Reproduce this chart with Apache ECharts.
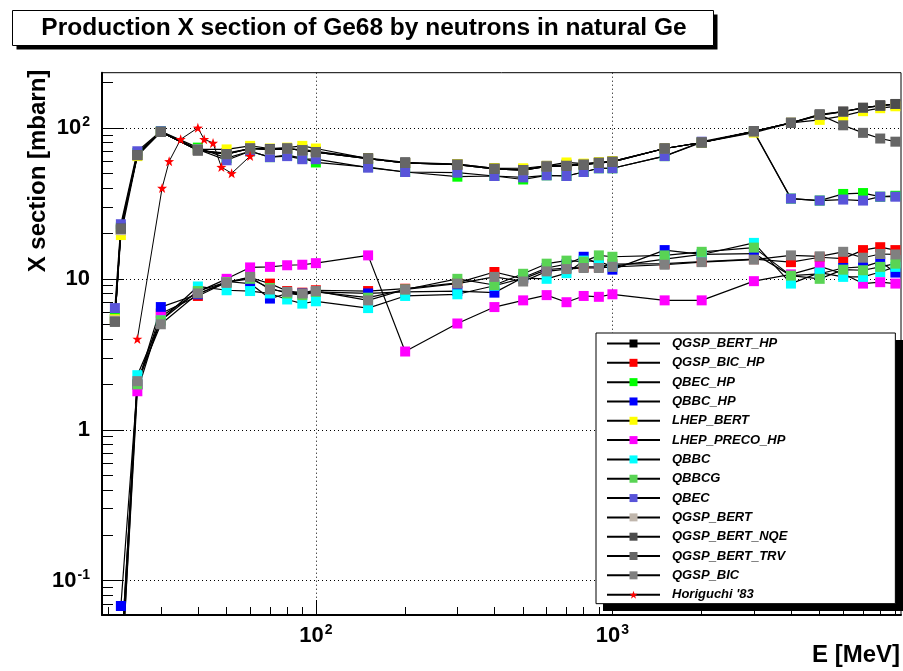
<!DOCTYPE html>
<html>
<head>
<meta charset="utf-8">
<script src="https://cdn.jsdelivr.net/npm/echarts@6/dist/echarts.min.js"></script>
<style>html,body{margin:0;padding:0;background:#fff}#c{width:903px;height:671px}</style>
</head>
<body>
<div id="c"></div>
<script>
// ---------------- data ----------------
const energies = [21, 22, 25, 30, 40, 50, 60, 70, 80, 90, 100, 150, 200, 300, 400, 500, 600, 700, 800, 900, 1000, 1500, 2000, 3000, 4000, 5000, 6000, 7000, 8000, 9000];

const seriesNames = ['QGSP_BERT_HP', 'QGSP_BIC_HP', 'QBEC_HP', 'QBBC_HP', 'LHEP_BERT', 'LHEP_PRECO_HP', 'QBBC', 'QBBCG', 'QBEC', 'QGSP_BERT', 'QGSP_BERT_NQE', 'QGSP_BERT_TRV', 'QGSP_BIC'];
const seriesColors = ['#000000', '#ff0000', '#00ff00', '#0000ff', '#ffff00', '#ff00ff', '#00ffff', '#59d454', '#5954d9', '#c0b6ac', '#4d4d4d', '#666666', '#808080'];

const QGSP_BERT_HP  = [5.4, 21, 66, 94, 71, 68, 73, 72, 72, 72, 70, 63, 59, 57.5, 54, 53, 56, 57, 57.5, 59, 60, 73, 80, 95, 108, 121, 128, 135, 141, 143];
const QGSP_BIC_HP   = [null, 0.02, 2.0, 5.9, 7.7, 9.5, 10.2, 9.3, 8.3, 8.1, 8.4, 8.3, 8.6, 9.4, 11.1, 10.0, 11.5, 11.8, 12.0, 12.0, 12.5, 12.6, 13.0, 13.5, 12.9, 13.9, 13.6, 15.5, 16.2, 15.5];
const QBEC_HP       = [5.7, 22, 68, 95, 74, 63, 70, 64, 66, 63, 59, 55, 51, 47.5, 48, 45.5, 48.5, 48, 51, 54, 54, 65, 80, 94, 34, 33, 36.5, 37, 35, 35.5];
const QBBC_HP       = [null, 0.068, 2.0, 6.5, 7.9, 9.6, 9.3, 7.4, 8.0, 8.0, 8.2, 8.0, 8.2, 8.3, 8.1, 10.2, 11.8, 12.5, 14.0, 12.5, 11.5, 15.5, 14.5, 14.7, 10.5, 10.8, 11.8, 12.0, 13.0, 11.0];
const LHEP_BERT     = [5.4, 19.5, 65, 94, 72, 72, 76, 73, 74, 76, 73, 62.5, 58.5, 57.5, 54, 54, 56, 59, 58, 59, 60, 73, 80, 93, 108, 113, 120, 129, 135, 139];
const LHEP_PRECO_HP = [null, 0.02, 1.8, 5.6, 8.2, 10.0, 11.9, 12.0, 12.3, 12.4, 12.7, 14.3, 3.3, 5.06, 6.5, 7.2, 7.8, 7.0, 7.7, 7.6, 7.9, 7.2, 7.2, 9.65, 10.7, 12.1, 10.8, 9.3, 9.5, 9.3];
const QBBC          = [null, 0.025, 2.3, 5.3, 8.9, 8.4, 8.3, 8.0, 7.3, 6.85, 7.1, 6.4, 7.7, 7.9, 9.0, 10.1, 10.0, 10.9, 13.2, 13.0, 12.1, 13.5, 14.5, 17.3, 9.3, 11.0, 10.3, 10.3, 11.1, 12.0];
const QBBCG         = [null, 0.03, 2.0, 5.3, 8.3, 9.5, 10.0, 8.7, 8.0, 7.8, 8.2, 7.5, 8.5, 10.0, 9.1, 10.8, 12.6, 13.2, 13.0, 14.3, 14.0, 14.3, 15.1, 16.1, 10.5, 10.0, 11.5, 11.4, 12.0, 12.6];
const QBEC          = [6.4, 23, 70, 95, 72, 61, 70, 64, 65, 62, 62, 54.5, 51, 50.5, 48, 47, 48.5, 48, 51, 54, 54, 65, 81, 95, 34, 33, 33.5, 33, 35, 35];
const QGSP_BERT     = [5.3, 21, 66, 94, 71, 67, 73, 72, 73, 71, 69, 62.5, 58.5, 57, 53.5, 52.5, 55.5, 56, 57, 58.5, 59.5, 73, 80, 95, 108, 122, 128, 136, 140, 144];
const QGSP_BERT_NQE = [5.2, 21.5, 66, 94, 71, 67, 73, 72.5, 73, 71, 69, 62.5, 58.5, 57, 53.5, 52.5, 55.5, 56, 57, 58.5, 59.5, 73, 80, 95, 108, 123, 128, 136, 140, 144];
const QGSP_BERT_TRV = [5.2, 21.5, 66, 94, 71, 67, 73, 72, 73, 71, 69, 62.5, 58.5, 57, 53.5, 52.5, 55.5, 56, 57, 58.5, 59.5, 73, 80, 95, 108, 122, 104, 92.7, 85, 81];
const QGSP_BIC      = [null, 0.03, 2.1, 5.0, 8.0, 9.4, 10.3, 8.5, 8.2, 8.0, 8.3, 7.2, 8.5, 9.3, 10.3, 9.6, 11.2, 11.6, 11.8, 11.8, 12.0, 12.4, 12.9, 13.4, 14.3, 14.1, 15.1, 13.8, 14.6, 14.5];

const horiguchiE = [25, 30.3, 32, 35, 40, 42, 45, 48, 52, 60];
const horiguchiV = [4.0, 40, 60, 84, 100, 84, 79.5, 55, 50, 65];

const xMajorTicks = [100, 1000];
const xMinorTicks = [20, 30, 40, 50, 60, 70, 80, 90, 200, 300, 400, 500, 600, 700, 800, 900, 2000, 3000, 4000, 5000, 6000, 7000, 8000, 9000];
const xTickLabels = {100: '{b|10}{s|2}', 1000: '{b|10}{s|3}'};
const yMajorTicks = [0.1, 1, 10, 100];
const yMinorTicks = [0.06, 0.07, 0.08, 0.09, 0.2, 0.3, 0.4, 0.5, 0.6, 0.7, 0.8, 0.9, 2, 3, 4, 5, 6, 7, 8, 9, 20, 30, 40, 50, 60, 70, 80, 90, 200];
const yTickLabels = {0.1: '{b|10}{s|-1}', 1: '{b|1}', 10: '{b|10}', 100: '{b|10}{s|2}'};

const seriesValues = [QGSP_BERT_HP, QGSP_BIC_HP, QBEC_HP, QBBC_HP, LHEP_BERT, LHEP_PRECO_HP, QBBC, QBBCG, QBEC, QGSP_BERT, QGSP_BERT_NQE, QGSP_BERT_TRV, QGSP_BIC];

const titleText = 'Production X section of Ge68 by neutrons in natural Ge';
const yTitle = 'X section [mbarn]';
const xTitle = 'E [MeV]';

// ---------------- chart ----------------
const FONT = 'Liberation Sans';
const X_MIN = 19.0, X_MAX = 9400, Y_MIN = 0.0593, Y_MAX = 232;
const star = 'path://M0,-10 L2.35,-3.24 L9.51,-3.09 L3.8,1.24 L5.88,8.09 L0,4 L-5.88,8.09 L-3.8,1.24 L-9.51,-3.09 L-2.35,-3.24 Z';

const richLab = {
  b: {fontFamily: FONT, fontSize: 22, fontWeight: 'bold', color: '#000', lineHeight: 26},
  s: {fontFamily: FONT, fontSize: 14, fontWeight: 'bold', color: '#000', verticalAlign: 'top', lineHeight: 14, padding: [0, 0, 0, 1]}
};

const series = seriesNames.map((name, i) => ({
  name: name,
  type: 'line',
  data: energies.map((e, k) => [e, seriesValues[i][k]]).filter(p => p[1] != null),
  symbol: 'rect',
  symbolSize: 10,
  showSymbol: true,
  showAllSymbol: true,
  itemStyle: {color: seriesColors[i]},
  lineStyle: {color: '#000', width: 1.2},
  emphasis: {disabled: true},
  animation: false,
  clip: true
}));
series.push({
  name: "Horiguchi '83",
  type: 'line',
  data: horiguchiE.map((e, k) => [e, horiguchiV[k]]),
  symbol: star,
  symbolSize: 10,
  showAllSymbol: true,
  itemStyle: {color: '#ff0000'},
  lineStyle: {color: '#000', width: 1},
  emphasis: {disabled: true},
  animation: false
});

const chart = echarts.init(document.getElementById('c'), null, {renderer: 'canvas'});
chart.setOption({
  backgroundColor: '#fff',
  animation: false,
  legend: {
    orient: 'vertical',
    left: 596, top: 333, z: 10,
    padding: [4, 108, 2.5, 10],
    itemWidth: 53, itemHeight: 10, itemGap: 6.32,
    backgroundColor: '#fff',
    borderColor: '#000', borderWidth: 1, borderRadius: 0,
    selectedMode: false,
    textStyle: {fontFamily: FONT, fontSize: 13, fontStyle: 'italic', fontWeight: 'bold', color: '#000', padding: [0, 0, 0, 7]},
    data: seriesNames.concat(["Horiguchi '83"])
  },
  grid: {left: 102, top: 72.7, right: 2, bottom: 56, show: true, borderColor: '#000', borderWidth: 1, backgroundColor: 'transparent'},
  xAxis: [{
    type: 'log', logBase: 10, min: X_MIN, max: X_MAX, position: 'bottom',
    axisLine: {show: true, onZero: false, lineStyle: {color: '#000', width: 2}},
    axisTick: {show: true, inside: true, length: 15, lineStyle: {color: '#000', width: 1}, customValues: xMajorTicks},
    axisLabel: {show: true, margin: 8, customValues: xMajorTicks, formatter: v => xTickLabels[Math.round(v)] || '', rich: richLab},
    splitLine: {show: true, lineStyle: {color: '#000', width: 1, type: [1, 3]}},
    minorTick: {show: false}
  }, {
    type: 'log', logBase: 10, min: X_MIN, max: X_MAX, position: 'bottom', gridIndex: 0,
    axisLine: {show: false},
    axisTick: {show: true, inside: true, length: 8, lineStyle: {color: '#000', width: 1}, customValues: xMinorTicks},
    axisLabel: {show: false},
    splitLine: {show: false}
  }],
  yAxis: [{
    type: 'log', logBase: 10, min: Y_MIN, max: Y_MAX, position: 'left',
    axisLine: {show: true, onZero: false, lineStyle: {color: '#000', width: 2}},
    axisTick: {show: true, inside: true, length: 22, lineStyle: {color: '#000', width: 1}, customValues: yMajorTicks},
    axisLabel: {show: true, margin: 12, customValues: yMajorTicks, formatter: v => {
      const key = Object.keys(yTickLabels).find(k => Math.abs(Math.log10(+k) - Math.log10(v)) < 1e-6);
      return key ? yTickLabels[key] : '';
    }, rich: richLab},
    splitLine: {show: true, lineStyle: {color: '#000', width: 1, type: [1, 3]}}
  }, {
    type: 'log', logBase: 10, min: Y_MIN, max: Y_MAX, position: 'left', gridIndex: 0,
    axisLine: {show: false},
    axisTick: {show: true, inside: true, length: 11, lineStyle: {color: '#000', width: 1}, customValues: yMinorTicks},
    axisLabel: {show: false},
    splitLine: {show: false}
  }],
  graphic: [
    // title box with drop shadow
    {type: 'rect', z: 1, shape: {x: 16.5, y: 14.5, width: 701, height: 35}, style: {fill: '#000'}},
    {type: 'rect', z: 2, shape: {x: 12.5, y: 10.5, width: 701, height: 35}, style: {fill: '#fff', stroke: '#000', lineWidth: 1}},
    {type: 'text', z: 3, x: 364, y: 28.5, style: {text: titleText, fontFamily: FONT, fontSize: 24.5, fontWeight: 'bold', fill: '#000', align: 'center', verticalAlign: 'middle'}},
    // legend drop shadow
    {type: 'rect', z: 1, shape: {x: 603, y: 340, width: 300, height: 271}, style: {fill: '#000'}},
    {type: 'text', x: 38.5, y: 171, rotation: Math.PI / 2,
      style: {text: yTitle, fontFamily: FONT, fontSize: 24, fontWeight: 'bold', fill: '#000', align: 'center', verticalAlign: 'middle'}},
    {type: 'text', x: 900, y: 655,
      style: {text: xTitle, fontFamily: FONT, fontSize: 24, fontWeight: 'bold', fill: '#000', align: 'right', verticalAlign: 'middle'}}
  ],
  series: series
});
</script>
</body>
</html>
